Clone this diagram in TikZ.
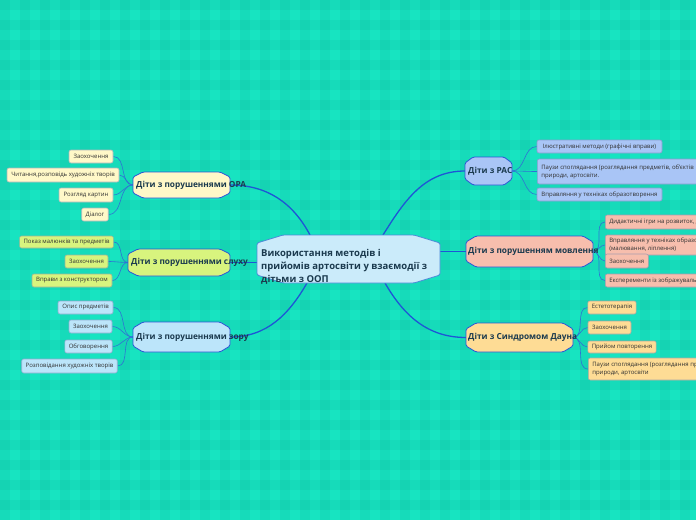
\documentclass[tikz,border=0pt]{standalone}
\usepackage{fontspec}
\setmainfont{Open Sans}
\pgfdeclarelayer{bgl}\pgfdeclarelayer{conn}\pgfdeclarelayer{shp}
\pgfsetlayers{bgl,conn,shp,main}
\definecolor{bgc}{HTML}{17E4C1}
\definecolor{cfill}{HTML}{CBEBFA}
\definecolor{cborder}{HTML}{4B8AD8}
\definecolor{orafill}{HTML}{FFF8C8}
\definecolor{sluhfill}{HTML}{D8F47E}
\definecolor{zorfill}{HTML}{BCE5FA}
\definecolor{rasfill}{HTML}{A9C5F6}
\definecolor{movfill}{HTML}{F7BEAD}
\definecolor{daunfill}{HTML}{FEDC95}
\definecolor{mainline}{HTML}{1E56D6}
\definecolor{leafline}{HTML}{2F72D4}
\definecolor{btextc}{HTML}{1B3A4E}
\definecolor{ltextc}{HTML}{303030}
\definecolor{bborder}{HTML}{2C55D6}
\definecolor{lb}{HTML}{6A80B0}
\newcommand\drawocto[4]{%
  \begin{pgfonlayer}{shp}
  \path[#4,rounded corners=1.5pt] ([yshift=-#3pt]#1.north west) -- ([xshift=#2pt]#1.north west) -- ([xshift=-#2pt]#1.north east) -- ([yshift=-#3pt]#1.north east) -- ([yshift=#3pt]#1.south east) -- ([xshift=-#2pt]#1.south east) -- ([xshift=#2pt]#1.south west) -- ([yshift=#3pt]#1.south west) -- cycle;
  \end{pgfonlayer}}
\begin{document}
\begin{tikzpicture}[x=1pt,y=-1pt,
  bbox/.style={rectangle,inner sep=0pt,outer sep=0pt},
  btext/.style={font=\bfseries\fontsize{8.3}{10}\selectfont,text=btextc,inner sep=0pt,anchor=west},
  ctext/.style={font=\bfseries\fontsize{9.5}{13}\selectfont,text=btextc,inner sep=0pt,anchor=west,align=left},
  leaf/.style={draw,rounded corners=2pt,inner xsep=4pt,inner ysep=1.5pt,line width=0.6pt,
    font=\fontsize{6}{8}\selectfont,text=ltextc,minimum height=13pt,align=left},
  mconn/.style={draw=mainline,line width=1.3pt},
  lconn/.style={draw=leafline,line width=0.6pt},
  shapeline/.style={draw=bborder,line width=0.8pt}]
\useasboundingbox (0,0) rectangle (696,520);
\begin{pgfonlayer}{bgl}
\fill[bgc] (0,0) rectangle (696,520);
\foreach \i in {0,20,...,680} \fill[black,opacity=0.035] (\i,0) rectangle ++(10,520);
\foreach \j in {0,20,...,500} \fill[black,opacity=0.035] (0,\j) rectangle ++(696,10);
\end{pgfonlayer}

% central
\node[bbox,minimum width=183pt,minimum height=48pt] (c) at (348.5,259) {};
\drawocto{c}{26}{8}{fill=cfill,draw=cborder,line width=0.8pt}
\node[ctext] (ct) at (261,267.3) {Використання методів і\\прийомів артосвіти у взаємодії з\\дітьми з ООП};

% branches
\node[bbox,minimum width=97pt,minimum height=26pt] (ora) at (181.5,185) {};
\drawocto{ora}{10}{5}{fill=orafill,shapeline}
\node[btext] (orat) at ([xshift=3pt]ora.west) {Діти з порушеннями ОРА};

\node[bbox,minimum width=102pt,minimum height=27pt] (slu) at (179,262.5) {};
\drawocto{slu}{10}{5}{fill=sluhfill,shapeline}
\node[btext] (slut) at ([xshift=3pt]slu.west) {Діти з порушеннями слуху};

\node[bbox,minimum width=97pt,minimum height=30pt] (zor) at (181.5,337) {};
\drawocto{zor}{10}{6}{fill=zorfill,shapeline}
\node[btext] (zort) at ([xshift=3pt]zor.west) {Діти з порушеннями зору};

\node[bbox,minimum width=47pt,minimum height=28pt] (ras) at (488.5,171) {};
\drawocto{ras}{8}{6}{fill=rasfill,shapeline}
\node[btext] (rast) at ([xshift=3pt]ras.west) {Діти з РАС};

\node[bbox,minimum width=127pt,minimum height=31pt] (mov) at (529.5,251.5) {};
\drawocto{mov}{10}{6}{fill=movfill,shapeline}
\node[btext] (movt) at ([xshift=2pt]mov.west) {Діти з порушенням мовлення};

\node[bbox,minimum width=107pt,minimum height=29pt] (dau) at (519.5,337.5) {};
\drawocto{dau}{10}{6}{fill=daunfill,shapeline}
\node[btext] (daut) at ([xshift=2pt]dau.west) {Діти з Синдромом Дауна};

% leaves ORA
\node[leaf,fill=orafill,draw=orafill!45!lb,minimum width=44pt] (o1) at (91,156.5) {Заохочення};
\node[leaf,fill=orafill,draw=orafill!45!lb,minimum width=112pt,minimum height=14pt] (o2) at (63,175) {Читання,розповідь художніх творів};
\node[leaf,fill=orafill,draw=orafill!45!lb,minimum width=54pt,minimum height=14pt] (o3) at (86,195) {Розгляд картин};
\node[leaf,fill=orafill,draw=orafill!45!lb,minimum width=26pt] (o4) at (95,214.5) {Діалог};

% leaves sluhu
\node[leaf,fill=sluhfill,draw=sluhfill!45!lb,minimum width=93pt,minimum height=12pt] (s1) at (66.5,242) {Показ малюнків та предметів};
\node[leaf,fill=sluhfill,draw=sluhfill!45!lb,minimum width=43pt] (s2) at (86.5,261.5) {Заохочення};
\node[leaf,fill=sluhfill,draw=sluhfill!45!lb,minimum width=80pt] (s3) at (72,280.5) {Вправи з конструктором};

% leaves zoru
\node[leaf,fill=zorfill,draw=zorfill!45!lb,minimum width=55pt] (z1) at (85.5,307.5) {Опис предметів};
\node[leaf,fill=zorfill,draw=zorfill!45!lb,minimum width=43pt] (z2) at (90.5,326.5) {Заохочення};
\node[leaf,fill=zorfill,draw=zorfill!45!lb,minimum width=47pt] (z3) at (88.5,346.5) {Обговорення};
\node[leaf,fill=zorfill,draw=zorfill!45!lb,minimum width=95pt,minimum height=14pt] (z4) at (69.5,366) {Розповідання художніх творів};

% leaves RAS
\node[leaf,fill=rasfill,draw=rasfill!45!lb,minimum width=125pt] (r1) at (599.5,146.5) {Ілюстративні методи (графічні вправи)};
\node[leaf,fill=rasfill,draw=rasfill!45!lb,anchor=west,minimum height=25pt] (r2) at (537,171.5) {Паузи споглядання (розглядання предметів, об'єктів\\природи, артосвіти.};
\node[leaf,fill=rasfill,draw=rasfill!45!lb,minimum width=125pt] (r3) at (599.5,194.5) {Вправляння у техніках образотворення};

% leaves movlennia
\node[leaf,fill=movfill,draw=movfill!45!lb,anchor=west,minimum height=14pt] (m1) at (605,222) {Дидактичні ігри на розвиток, дрібної моторики};
\node[leaf,fill=movfill,draw=movfill!45!lb,anchor=west,minimum height=20pt] (m2) at (605,245) {Вправляння у техніках образотворення\\(малювання, ліплення)};
\node[leaf,fill=movfill,draw=movfill!45!lb,anchor=west,minimum width=43pt,minimum height=14pt] (m3) at (605,261) {Заохочення};
\node[leaf,fill=movfill,draw=movfill!45!lb,anchor=west] (m4) at (605,280.5) {Експеременти із зображувальними матеріалами};

% leaves Dauna
\node[leaf,fill=daunfill,draw=daunfill!45!lb,minimum width=48pt] (d1) at (612,307.5) {Естетотерапія};
\node[leaf,fill=daunfill,draw=daunfill!45!lb,minimum width=43pt] (d2) at (609.5,327.5) {Заохочення};
\node[leaf,fill=daunfill,draw=daunfill!45!lb,minimum width=68pt,minimum height=12pt] (d3) at (622,347) {Прийом повторення};
\node[leaf,fill=daunfill,draw=daunfill!45!lb,anchor=west,minimum height=22pt] (d4) at (588,369) {Паузи споглядання (розглядання предметів, об'єктів\\природи, артосвіти};

\coordinate (ctl) at ([xshift=-38.5pt]c.north);
\coordinate (ctr) at ([xshift=34.5pt]c.north);
\coordinate (cbl) at ([xshift=-41.5pt]c.south);
\coordinate (cbr) at ([xshift=36.5pt]c.south);

\begin{pgfonlayer}{conn}
\draw[mconn] (ora.east) to[out=0,in=118] (ctl);
\draw[mconn] (c.west |- slu.east) -- (slu.east);
\draw[mconn] (zor.east) to[out=0,in=240] (cbl);
\draw[mconn] (ctr) to[out=58,in=180] (ras.west);
\draw[mconn] (c.east |- mov.west) -- (mov.west);
\draw[mconn] (cbr) to[out=-60,in=180] (dau.west);
\foreach \l in {o1,o2,o3,o4} \draw[lconn] (ora.west) to[out=180,in=0] (\l.east);
\foreach \l in {s1,s2,s3} \draw[lconn] (slu.west) to[out=180,in=0] (\l.east);
\foreach \l in {z1,z2,z3,z4} \draw[lconn] (zor.west) to[out=180,in=0] (\l.east);
\foreach \l in {r1,r2,r3} \draw[lconn] (ras.east) to[out=0,in=180] (\l.west);
\foreach \l in {m1,m2,m3,m4} \draw[lconn] (mov.east) to[out=0,in=180] (\l.west);
\foreach \l in {d1,d2,d3,d4} \draw[lconn] (dau.east) to[out=0,in=180] (\l.west);
\end{pgfonlayer}
\end{tikzpicture}
\end{document}
